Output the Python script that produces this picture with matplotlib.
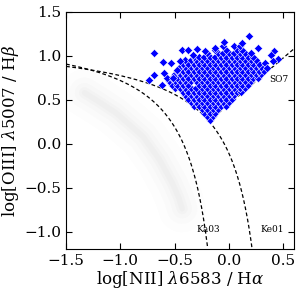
import numpy as np
import matplotlib
matplotlib.use('Agg')
import matplotlib.pyplot as plt

plt.rcParams['font.family'] = ['DejaVu Serif']
plt.rcParams['mathtext.fontset'] = 'dejavuserif'

# ── Background SDSS cloud: ridge of the star-forming sequence (read by eye) ──
ridge_x = [-1.33, -1.20, -1.04, -0.90, -0.79, -0.64, -0.52, -0.46, -0.43]
ridge_y = [0.58, 0.48, 0.35, 0.20, 0.08, -0.18, -0.45, -0.62, -0.74]

# ── Blue sample: rows of the dense lattice plus scattered outliers ──────────
rows = {
    0.27: [-0.175],
    0.31: [-0.20, -0.15],
    0.35: [-0.225, -0.175, -0.125],
    0.39: [-0.25, -0.20, -0.15, -0.10],
    0.43: [-0.325, -0.275, -0.225, -0.175, -0.125, -0.075, -0.025],
    0.47: [-0.35, -0.30, -0.25, -0.20, -0.15, -0.10, -0.05, 0.00],
    0.51: [-0.375, -0.325, -0.275, -0.225, -0.175, -0.125, -0.075, -0.025, 0.025],
    0.55: [-0.40, -0.35, -0.30, -0.25, -0.20, -0.15, -0.10, -0.05, 0.00, 0.05],
    0.59: [-0.425, -0.375, -0.325, -0.275, -0.225, -0.175, -0.125, -0.075,
           -0.025, 0.025, 0.075, 0.115],
    0.63: [-0.50, -0.45, -0.40, -0.35, -0.30, -0.25, -0.20, -0.15, -0.10,
           -0.05, 0.00, 0.05, 0.10, 0.15],
    0.67: [-0.525, -0.475, -0.425, -0.375, -0.275, -0.225, -0.175, -0.125,
           -0.075, -0.025, 0.025, 0.075, 0.125, 0.175],
    0.71: [-0.55, -0.50, -0.45, -0.40, -0.35, -0.30, -0.25, -0.20, -0.15,
           -0.10, -0.05, 0.00, 0.05, 0.10, 0.15, 0.20],
    0.75: [-0.525, -0.475, -0.425, -0.375, -0.325, -0.275, -0.225, -0.175,
           -0.125, -0.075, -0.025, 0.025, 0.075, 0.125, 0.175, 0.225, 0.265],
    0.79: [-0.50, -0.45, -0.40, -0.35, -0.30, -0.25, -0.20, -0.15, -0.10,
           -0.05, 0.00, 0.05, 0.10, 0.15, 0.20, 0.25, 0.30],
    0.83: [-0.475, -0.425, -0.375, -0.325, -0.275, -0.225, -0.175, -0.125,
           -0.075, -0.025, 0.025, 0.075, 0.125, 0.175, 0.225, 0.275, 0.325],
    0.87: [-0.45, -0.40, -0.35, -0.30, -0.25, -0.20, -0.15, -0.10, -0.05,
           0.00, 0.05, 0.10, 0.15, 0.20, 0.25, 0.30],
    0.91: [-0.425, -0.375, -0.325, -0.275, -0.225, -0.175, -0.125, -0.075,
           -0.025, 0.025, 0.075, 0.125, 0.175, 0.225, 0.275],
    0.95: [-0.40, -0.35, -0.30, -0.25, -0.20, -0.15, -0.10, -0.05, 0.00,
           0.05, 0.10, 0.15, 0.20, 0.25],
    0.99: [-0.325, -0.275, -0.225, -0.175, -0.125, -0.075, -0.025, 0.025,
           0.075, 0.125, 0.175, 0.225],
    1.03: [-0.20, -0.10, -0.05, 0.00, 0.05, 0.10, 0.15, 0.20],
    1.07: [-0.125, -0.025, 0.075, 0.125],
    1.11: [-0.05, 0.05, 0.10],
}
out_x = [-0.69, -0.61, -0.53, -0.69, -0.74, -0.43, -0.38, -0.29, -0.45, -0.48,
         -0.57, -0.33, -0.60, -0.62, -0.51, 0.19, -0.04, 0.12, 0.42, 0.39,
         0.45, 0.33, 0.27, -0.22, -0.13, 0.35, 0.41]
out_y = [1.03, 0.93, 0.92, 0.78, 0.72, 1.07, 1.07, 1.08, 0.94, 0.84,
         0.75, 1.01, 0.80, 0.67, 0.75, 1.23, 1.16, 1.15, 1.05, 1.01,
         0.97, 0.92, 1.09, 1.05, 1.09, 0.86, 0.94]

pts_x = [x for y, xs in rows.items() for x in xs] + out_x
pts_y = [y for y, xs in rows.items() for x in xs] + out_y

# ── Demarcation curves ───────────────────────────────────────────────────────
x_ka = np.linspace(-1.5, -0.195, 300)
y_ka = 0.61 / (x_ka - 0.05) + 1.3          # Kauffmann+03
x_ke = np.linspace(-1.5, 0.215, 300)
y_ke = 0.61 / (x_ke - 0.47) + 1.19         # Kewley+01
x_so = np.linspace(-0.18, 0.6, 50)
y_so = 1.05 * x_so + 0.45                  # Schawinski+07

fig = plt.figure(figsize=(2.99, 2.99), dpi=100)
ax = fig.add_axes([0.221, 0.167, 0.762, 0.793])

for lw, a in [(34, 0.010), (22, 0.014), (14, 0.018), (8, 0.022), (4, 0.025)]:
    ax.plot(ridge_x, ridge_y, color='0.4', lw=lw, alpha=a,
            solid_capstyle='round', solid_joinstyle='round', zorder=1)

ax.plot(x_ka, y_ka, color='black', lw=0.9, ls=(0, (3, 2)), zorder=2)
ax.plot(x_ke, y_ke, color='black', lw=0.9, ls=(0, (3, 2)), zorder=2)
ax.plot(x_so, y_so, color='black', lw=0.9, ls=(0, (3, 2)), zorder=2)

ax.scatter(pts_x, pts_y, marker='D', s=18, c='#0000ff',
           edgecolors='white', linewidths=0.4, zorder=3)

ax.text(-0.19, -0.98, 'Ka03', fontsize=6.5, ha='center', va='center')
ax.text(0.40, -0.98, 'Ke01', fontsize=6.5, ha='center', va='center')
ax.text(0.46, 0.73, 'SO7', fontsize=6.5, ha='center', va='center')

ax.set_xlim(-1.5, 0.6)
ax.set_ylim(-1.2, 1.5)
ax.set_xticks([-1.5, -1.0, -0.5, 0.0, 0.5])
ax.set_yticks([-1.0, -0.5, 0.0, 0.5, 1.0, 1.5])
ax.tick_params(direction='in', top=True, right=True, length=4,
               labelsize=11, width=0.8)
ax.set_xlabel(r'log[NII] $\lambda$6583 / H$\alpha$', fontsize=12, labelpad=1)
ax.set_ylabel(r'log[OIII] $\lambda$5007 / H$\beta$', fontsize=12, labelpad=2)

fig.savefig('out.png', dpi=100)
